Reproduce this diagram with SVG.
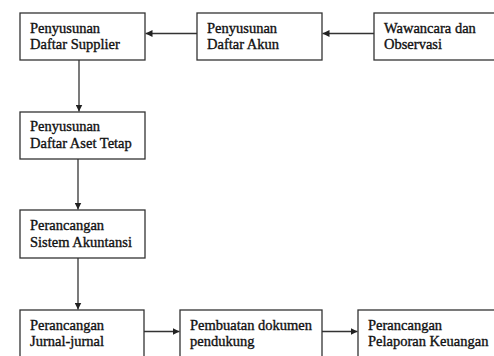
<svg xmlns="http://www.w3.org/2000/svg" width="494" height="356" viewBox="0 0 494 356">
<style>
.box{fill:#fff;stroke:#333;stroke-width:1.3}
.t{font-family:'Liberation Serif','Times New Roman',Times,serif;font-size:14.5px;fill:#111;stroke:#111;stroke-width:0.35}
.c{stroke:#333;stroke-width:1.3;fill:none;marker-end:url(#ah)}
</style>
<defs>
<marker id="ah" viewBox="0 0 10 10" refX="10" refY="5" markerWidth="7" markerHeight="7" markerUnits="userSpaceOnUse" orient="auto">
<path d="M0,0 L10,5 L0,10 z" fill="#222"/>
</marker>
</defs>
<rect width="494" height="356" fill="#fff"/>
<g id="connectors">
<line class="c" x1="197" y1="33.5" x2="145.5" y2="33.5"/>
<line class="c" x1="374" y1="33.5" x2="322.5" y2="33.5"/>
<line class="c" x1="79" y1="60" x2="79" y2="111.5"/>
<line class="c" x1="78" y1="159" x2="78" y2="209.5"/>
<line class="c" x1="78" y1="258" x2="78" y2="309.5"/>
<line class="c" x1="144" y1="331.5" x2="179.5" y2="331.5"/>
<line class="c" x1="322" y1="331.5" x2="357.5" y2="331.5"/>
</g>
<g id="n-supplier">
<rect class="box" x="20" y="13" width="125" height="47"/>
<text class="t" x="30" y="32.5">Penyusunan</text>
<text class="t" x="30" y="49">Daftar Supplier</text>
</g>
<g id="n-akun">
<rect class="box" x="197" y="13" width="125" height="47"/>
<text class="t" x="207" y="32.5">Penyusunan</text>
<text class="t" x="207" y="49">Daftar Akun</text>
</g>
<g id="n-wawancara">
<rect class="box" x="374" y="13" width="130" height="47"/>
<text class="t" x="384" y="32.5">Wawancara dan</text>
<text class="t" x="384" y="49">Observasi</text>
</g>
<g id="n-aset">
<rect class="box" x="20" y="112" width="125" height="47"/>
<text class="t" x="30" y="131">Penyusunan</text>
<text class="t" x="30" y="148">Daftar Aset Tetap</text>
</g>
<g id="n-sistem">
<rect class="box" x="20" y="210" width="125" height="48"/>
<text class="t" x="30" y="229.5">Perancangan</text>
<text class="t" x="30" y="246.5">Sistem Akuntansi</text>
</g>
<g id="n-jurnal">
<rect class="box" x="20" y="310" width="124" height="60"/>
<text class="t" x="30" y="329.5">Perancangan</text>
<text class="t" x="30" y="346">Jurnal-jurnal</text>
</g>
<g id="n-dokumen">
<rect class="box" x="180" y="310" width="142" height="60"/>
<text class="t" x="190" y="329.5">Pembuatan dokumen</text>
<text class="t" x="190" y="346">pendukung</text>
</g>
<g id="n-pelaporan">
<rect class="box" x="358" y="310" width="146" height="60"/>
<text class="t" x="368" y="329.5">Perancangan</text>
<text class="t" x="368" y="346">Pelaporan Keuangan</text>
</g>
</svg>
